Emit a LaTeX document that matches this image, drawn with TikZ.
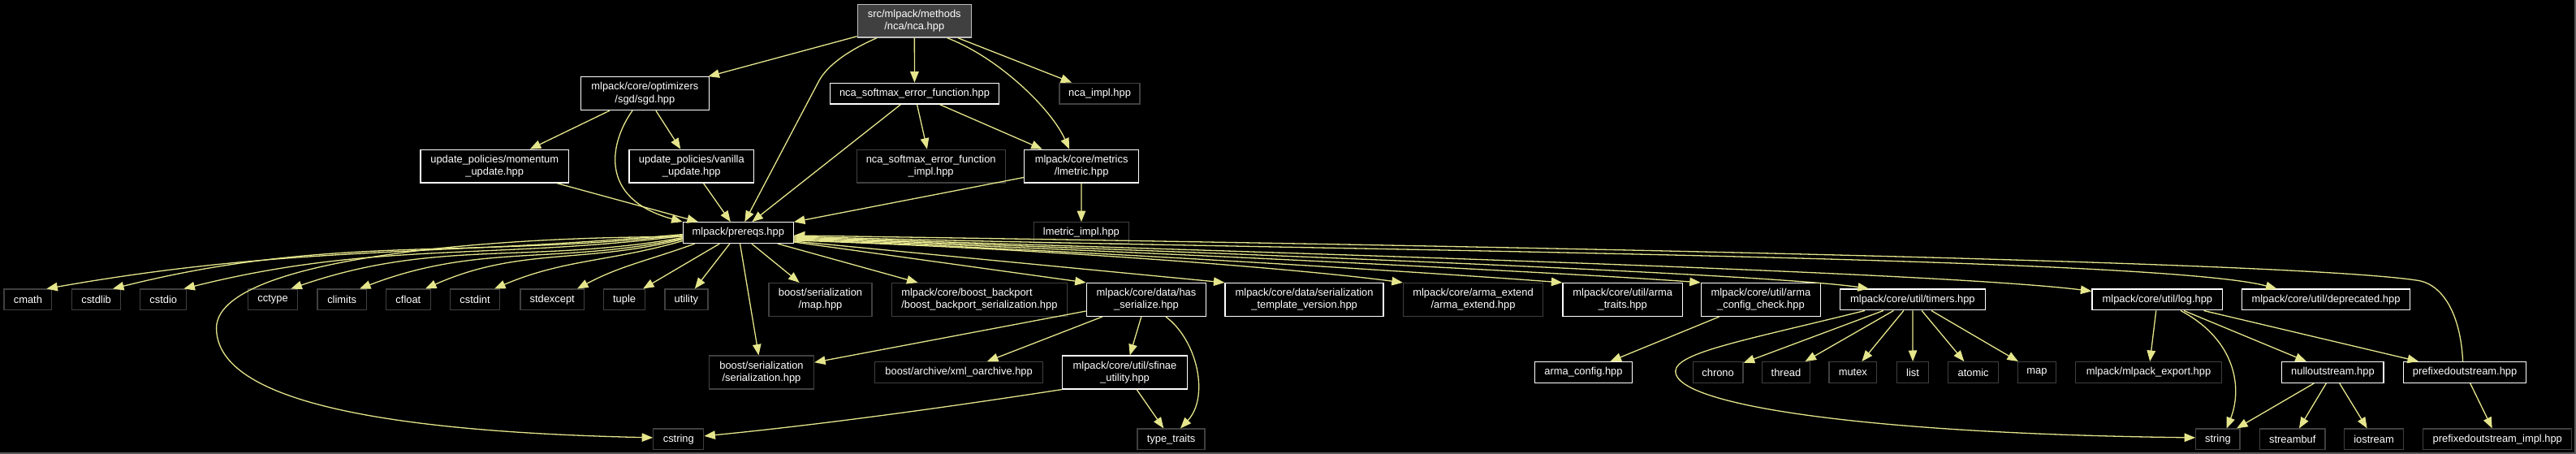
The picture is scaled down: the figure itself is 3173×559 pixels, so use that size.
\documentclass[tikz,border=0pt]{standalone}
\usepackage{fontspec}
\newfontfamily\lsans{Liberation Sans}
\usetikzlibrary{arrows.meta}
\definecolor{edgecol}{RGB}{229,229,140}
\definecolor{nodocborder}{RGB}{64,64,64}
\definecolor{topfill}{RGB}{64,64,64}
\definecolor{topborder}{RGB}{191,191,191}
\definecolor{framecol}{RGB}{90,90,90}
\begin{document}
\begin{tikzpicture}[x=1pt,y=1pt,
  base/.style={rectangle, inner sep=0pt, text=white, font=\lsans\fontsize{12.9}{15.3}\selectfont, align=center, line width=1.3pt, fill=black},
  doc/.style={base, draw=white},
  nodoc/.style={base, draw=nodocborder},
  topnode/.style={base, fill=topfill, draw=topborder},
  h1/.style={minimum height=25.7pt},
  h2/.style={minimum height=40.8pt},
  wd/.style={minimum width=#1pt},
  conn/.style={draw=edgecol, line width=1.3pt, -{Triangle[length=13.5pt,width=10.5pt]}}]
\fill[black] (0,0) rectangle (3173,559);
\useasboundingbox (0,0) rectangle (3173,559);
\draw[framecol, line width=2pt] (0,1) -- (3172,1) -- (3172,559);

% ---- nodes
\node[topnode, wd=140, h2] (nca) at (1126.3,533.3) {src/mlpack/methods\\/nca/nca.hpp};
\node[doc, wd=158, h2] (sgd) at (794.4,443.8) {mlpack/core/optimizers\\/sgd/sgd.hpp};
\node[doc, wd=208, h1] (soft) at (1126.5,443.8) {nca\_softmax\_error\_function.hpp};
\node[nodoc, wd=99, h1] (ncaimpl) at (1354.6,443.8) {nca\_impl.hpp};
\node[doc, wd=182.6, h2] (mom) at (609.2,354.3) {update\_policies/momentum\\\_update.hpp};
\node[doc, wd=153.6, h2] (van) at (851.8,354.3) {update\_policies/vanilla\\\_update.hpp};
\node[nodoc, wd=183, h2] (softimpl) at (1146.7,354.3) {nca\_softmax\_error\_function\\\_impl.hpp};
\node[doc, wd=141, h2] (lmetric) at (1332.1,354.3) {mlpack/core/metrics\\/lmetric.hpp};
\node[doc, wd=136, h1] (prereqs) at (909.3,272.4) {mlpack/prereqs.hpp};
\node[nodoc, wd=117, h1] (lmimpl) at (1331.9,272.4) {lmetric\_impl.hpp};

\node[nodoc, wd=58.7, h1] (cmath) at (34.4,190) {cmath};
\node[nodoc, wd=60, h1] (cstdlib) at (118.6,190) {cstdlib};
\node[nodoc, wd=56.8, h1] (cstdio) at (201.2,190) {cstdio};
\node[nodoc, wd=61, h1] (cctype) at (336.1,190) {cctype};
\node[nodoc, wd=60.5, h1] (climits) at (421.2,190) {climits};
\node[nodoc, wd=55.5, h1] (cfloat) at (502.9,190) {cfloat};
\node[nodoc, wd=60.6, h1] (cstdint) at (585.1,190) {cstdint};
\node[nodoc, wd=78.4, h1] (stdexcept) at (680.2,190) {stdexcept};
\node[nodoc, wd=51, h1] (tuple) at (769.1,190) {tuple};
\node[nodoc, wd=53, h1] (utility) at (845.4,190) {utility};
\node[nodoc, wd=127, h2] (bsmap) at (1010.5,190) {boost/serialization\\/map.hpp};
\node[nodoc, wd=216, h2, align=left] (backport) at (1206.4,190) {mlpack/core/boost\_backport\\/boost\_backport\_serialization.hpp};
\node[doc, wd=147.4, h2] (hasser) at (1412,190) {mlpack/core/data/has\\\_serialize.hpp};
\node[doc, wd=195, h2] (tmplver) at (1606.6,190) {mlpack/core/data/serialization\\\_template\_version.hpp};
\node[nodoc, wd=172, h2] (armaext) at (1814.5,190) {mlpack/core/arma\_extend\\/arma\_extend.hpp};
\node[doc, wd=147.4, h2] (armatraits) at (1998.7,190) {mlpack/core/util/arma\\\_traits.hpp};
\node[doc, wd=147, h2] (armacheck) at (2168.9,190) {mlpack/core/util/arma\\\_config\_check.hpp};
\node[doc, wd=179, h1] (timers) at (2355.9,190) {mlpack/core/util/timers.hpp};
\node[doc, wd=160.8, h1] (log) at (2657.4,190) {mlpack/core/util/log.hpp};
\node[doc, wd=207, h1] (deprecated) at (2865,190) {mlpack/core/util/deprecated.hpp};

\node[nodoc, wd=129, h2] (serial) at (938,100.5) {boost/serialization\\/serialization.hpp};
\node[nodoc, wd=207, h1] (xml) at (1181.1,100.5) {boost/archive/xml\_oarchive.hpp};
\node[doc, wd=153.5, h2] (sfinae) at (1385.5,100.5) {mlpack/core/util/sfinae\\\_utility.hpp};
\node[doc, wd=119.4, h1] (armaconfig) at (1950.5,100.5) {arma\_config.hpp};
\node[nodoc, wd=61.8, h1] (chrono) at (2116.1,100.5) {chrono};
\node[nodoc, wd=59, h1] (thread) at (2200,100.5) {thread};
\node[nodoc, wd=58.7, h1] (mutex) at (2282.3,100.5) {mutex};
\node[nodoc, wd=38.8, h1] (list) at (2356.1,100.5) {list};
\node[nodoc, wd=62, h1] (atomic) at (2430.6,100.5) {atomic};
\node[nodoc, wd=47.3, h1] (map) at (2509,100.5) {map};
\node[nodoc, wd=179.5, h1] (export) at (2646.5,100.5) {mlpack/mlpack\_export.hpp};
\node[doc, wd=125.3, h1] (nullout) at (2873.4,100.5) {nulloutstream.hpp};
\node[doc, wd=150.9, h1] (pfx) at (3036.1,100.5) {prefixedoutstream.hpp};

\node[nodoc, wd=62, h1] (cstring) at (835.8,18.1) {cstring};
\node[nodoc, wd=83, h1] (typetraits) at (1442.6,18.1) {type\_traits};
\node[nodoc, wd=54.3, h1] (string) at (2731.9,18.1) {string};
\node[nodoc, wd=80.4, h1] (streambuf) at (2823.8,18.1) {streambuf};
\node[nodoc, wd=72.5, h1] (iostream) at (2924,18.1) {iostream};
\node[nodoc, wd=183, h1] (pfximpl) at (3076.3,18.1) {prefixedoutstream\_impl.hpp};

% ---- top edges
\draw[conn] (nca) -- (sgd);
\draw[conn] ([xshift=-46.3pt]nca.south) .. controls (1045,497) and (1018,478) .. (1008,458) -- ([xshift=8pt]prereqs.north);
\draw[conn] (nca) -- (soft);
\draw[conn] ([xshift=40.5pt]nca.south) .. controls (1230,488) and (1295,425) .. ([xshift=-15pt]lmetric.north);
\draw[conn] (nca) -- (ncaimpl);
\draw[conn] (sgd) -- (mom);
\draw[conn] ([xshift=-15.4pt]sgd.south) .. controls (752,385) and (735,315) .. (prereqs.north west);
\draw[conn] (sgd) -- (van);
\draw[conn] (mom) -- (prereqs);
\draw[conn] (van) -- (prereqs);
\draw[conn] (soft) -- (prereqs);
\draw[conn] (soft) -- (softimpl);
\draw[conn] (soft) -- (lmetric);
\draw[conn] (lmetric) -- (prereqs);
\draw[conn] (lmetric) -- (lmimpl);

% ---- prereqs: left fan
\draw[conn] ([yshift=-2pt]prereqs.west) to[out=185,in=10] ([xshift=23pt]cmath.north);
\draw[conn] ([yshift=-3pt]prereqs.west) to[out=186,in=14] ([xshift=20.4pt]cstdlib.north);
\draw[conn] ([yshift=-4pt]prereqs.west) to[out=187,in=14] ([xshift=25.2pt]cstdio.north);
\draw[conn] ([yshift=-6pt]prereqs.west) to[out=190,in=19] ([xshift=22.3pt]cctype.north);
\draw[conn] ([yshift=-7pt]prereqs.west) to[out=192,in=21] ([xshift=21.8pt]climits.north);
\draw[conn] ([yshift=-8pt]prereqs.west) to[out=194,in=24] ([xshift=21.1pt]cfloat.north);
\draw[conn] ([yshift=-10pt]prereqs.west) to[out=196,in=23] ([xshift=23.9pt]cstdint.north);
\draw[conn] ([xshift=15pt]prereqs.south west) to[out=200,in=28] ([xshift=30.8pt]stdexcept.north);
\draw[conn] (prereqs) -- (tuple);
\draw[conn] (prereqs) -- (utility);
\draw[conn] ([yshift=-5pt]prereqs.west) .. controls (600,268) and (266.6,240) .. (266.6,155) .. controls (266.6,70) and (450,28) .. ([yshift=2pt]cstring.west);

% ---- prereqs: right fan
\draw[conn] (prereqs) -- (bsmap);
\draw[conn] (prereqs) -- (backport);
\draw[conn] (prereqs) -- (serial);
\draw[conn] ([yshift=-11.4pt]prereqs.east) -- (hasser.north west);
\draw[conn] ([yshift=-10.4pt]prereqs.east) -- (tmplver.north west);
\draw[conn] ([yshift=-9.4pt]prereqs.east) .. controls (1300,252) and (1600,228) .. (armaext.north west);
\draw[conn] ([yshift=-8.4pt]prereqs.east) .. controls (1350,250) and (1780,222) .. (armatraits.north west);
\draw[conn] ([yshift=-7.4pt]prereqs.east) .. controls (1400,250) and (1950,222) .. (armacheck.north west);
\draw[conn] ([yshift=-6.4pt]prereqs.east) .. controls (1450,250) and (2180,222) .. ([xshift=-54pt]timers.north);
\draw[conn] ([yshift=-5.4pt]prereqs.east) .. controls (1500,250) and (2380,225) .. ([yshift=-3pt]log.north west);
\draw[conn] ([yshift=-4.4pt]prereqs.east) .. controls (1500,252) and (2650,245) .. ([xshift=-60.6pt]deprecated.north);
\draw[conn] ([xshift=-2.5pt]pfx.north) .. controls (3031,170) and (3010,210) .. (2976,214) .. controls (2800,240) and (1600,260) .. ([yshift=-3.4pt]prereqs.east);

% ---- lower edges
\draw[conn] (hasser) -- (serial);
\draw[conn] (hasser) -- (xml);
\draw[conn] (hasser) -- (sfinae);
\draw[conn] ([xshift=24pt]hasser.south) .. controls (1475,140) and (1490,70) .. ([xshift=11.4pt]typetraits.north);
\draw[conn] (sfinae) -- (typetraits);
\draw[conn] (sfinae.south west) .. controls (1150,55) and (1000,35) .. ([yshift=4pt]cstring.east);
\draw[conn] (armacheck) -- (armaconfig);
\draw[conn] (timers) -- (chrono);
\draw[conn] (timers) -- (thread);
\draw[conn] (timers) -- (mutex);
\draw[conn] (timers) -- (list);
\draw[conn] (timers) -- (atomic);
\draw[conn] (timers) -- (map);
\draw[conn] ([xshift=-59pt]timers.south) .. controls (2150,140) and (2063.8,125) .. (2063.8,101.6) .. controls (2063.8,60) and (2300,25) .. ([yshift=2pt]string.west);
\draw[conn] (log) -- (export);
\draw[conn] ([xshift=28.6pt]log.south) .. controls (2755,140) and (2762,80) .. ([xshift=10.8pt]string.north);
\draw[conn] (log) -- (nullout);
\draw[conn] (log) -- (pfx);
\draw[conn] (nullout) -- (string);
\draw[conn] (nullout) -- (streambuf);
\draw[conn] (nullout) -- (iostream);
\draw[conn] (pfx) -- (pfximpl);
\end{tikzpicture}
\end{document}
